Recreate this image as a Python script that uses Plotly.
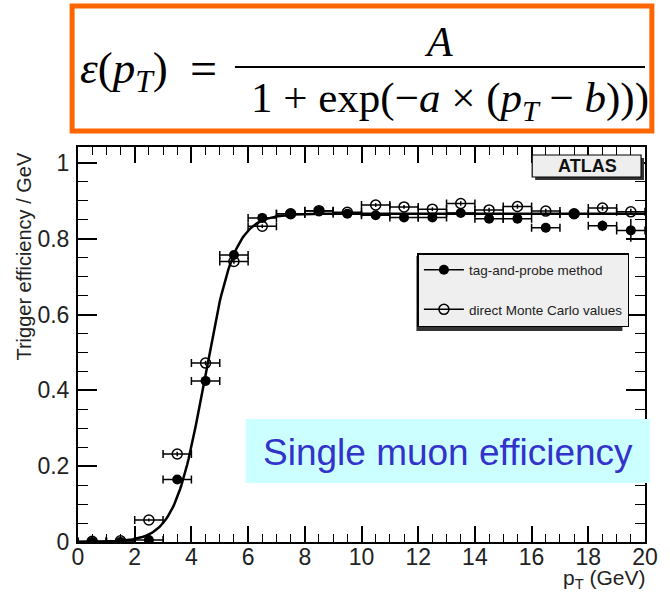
import math
import plotly.graph_objects as go

# ---------------- data ----------------
pt_bins = [0.5, 1.5, 2.5, 3.5, 4.5, 5.5, 6.5, 7.5, 8.5, 9.5,
           10.5, 11.5, 12.5, 13.5, 14.5, 15.5, 16.5, 17.5, 18.5, 19.5]
bin_half_width = [0.5] * 20

tag_probe_eff = [0.000, 0.000, 0.005, 0.165, 0.425, 0.757, 0.855, 0.866, 0.873, 0.866,
                 0.862, 0.856, 0.856, 0.868, 0.853, 0.853, 0.829, 0.865, 0.834, 0.822]
tag_probe_err = [0.002, 0.002, 0.003, 0.010, 0.010, 0.010, 0.008, 0.006, 0.006, 0.006,
                 0.007, 0.007, 0.008, 0.008, 0.009, 0.010, 0.012, 0.012, 0.014, 0.030]

mc_eff = [0.002, 0.003, 0.058, 0.232, 0.472, 0.740, 0.833, 0.866, 0.874, 0.870,
          0.889, 0.884, 0.878, 0.893, 0.876, 0.885, 0.873, 0.866, 0.881, 0.871]
mc_err = [0.002, 0.002, 0.004, 0.006, 0.006, 0.006, 0.005, 0.004, 0.004, 0.004,
          0.005, 0.005, 0.005, 0.006, 0.006, 0.006, 0.006, 0.006, 0.007, 0.008]

# fitted sigmoid parameters  eps = A / (1 + exp(-a (pT - b)))
fit_A, fit_a, fit_b = 0.866, 1.9, 4.47

x_ticks = [0, 2, 4, 6, 8, 10, 12, 14, 16, 18, 20]
y_ticks = [0, 0.2, 0.4, 0.6, 0.8, 1]
x_range = [0, 20]
y_range = [0, 1.042]

# ---------------- geometry ----------------
W, H = 670, 595
L, R, T, B = 78, 656, 147, 542


def pxx(p):
    return (p - L) / (R - L)


def pxy(p):
    return (B - p) / (B - T)


curve_x = [i * 0.05 for i in range(401)]
curve_y = [fit_A / (1 + math.exp(-fit_a * (x - fit_b))) for x in curve_x]

fig = go.Figure()

fig.add_trace(go.Scatter(x=curve_x, y=curve_y, mode="lines",
                         line=dict(color="black", width=2.5),
                         showlegend=False, hoverinfo="skip"))

fig.add_trace(go.Scatter(
    x=pt_bins, y=mc_eff, mode="markers",
    marker=dict(symbol="circle-open", size=10, color="black", line=dict(width=1.5, color="black")),
    error_x=dict(type="data", array=bin_half_width, color="black", thickness=1.5, width=4),
    error_y=dict(type="data", array=mc_err, color="black", thickness=1.5, width=0),
    showlegend=False))

fig.add_trace(go.Scatter(
    x=pt_bins, y=tag_probe_eff, mode="markers",
    marker=dict(symbol="circle", size=10, color="black"),
    error_x=dict(type="data", array=bin_half_width, color="black", thickness=1.5, width=4),
    error_y=dict(type="data", array=tag_probe_err, color="black", thickness=1.5, width=0),
    showlegend=False))

# legend entries (line + marker, ROOT style)
fig.add_trace(go.Scatter(x=[None], y=[None], mode="lines+markers", name="tag-and-probe method",
                         legendgroup="g1",
                         marker=dict(symbol="circle", size=10, color="black"),
                         line=dict(color="black", width=1.5)))
fig.add_trace(go.Scatter(x=[None], y=[None], mode="lines+markers", name="direct Monte Carlo values",
                         legendgroup="g2",
                         marker=dict(symbol="circle-open", size=10, color="black",
                                     line=dict(width=1.5, color="black")),
                         line=dict(color="black", width=1.5)))

# helper axes to mirror minor ticks on top and right
fig.add_trace(go.Scatter(x=[None], y=[None], xaxis="x2", yaxis="y2", showlegend=False, hoverinfo="skip"))

shapes = []
annotations = []

# formula box
shapes.append(dict(type="rect", xref="paper", yref="paper",
                   x0=pxx(72), x1=pxx(663), y0=pxy(6), y1=pxy(131),
                   line=dict(color="#ff6600", width=5), fillcolor="white", layer="above"))
serif = "Liberation Serif"
annotations.append(dict(xref="paper", yref="paper", x=pxx(78), y=pxy(71), xanchor="left", yanchor="middle",
                        text="<i>ε</i>(<i>p</i><sub><i>T</i></sub>)", showarrow=False,
                        font=dict(family=serif, size=45, color="black")))
annotations.append(dict(xref="paper", yref="paper", x=pxx(206), y=pxy(68), xanchor="center", yanchor="middle",
                        text="=", showarrow=False,
                        font=dict(family=serif, size=48, color="black")))
annotations.append(dict(xref="paper", yref="paper", x=pxx(446), y=pxy(42), xanchor="center", yanchor="middle",
                        text="<i>A</i>", showarrow=False,
                        font=dict(family=serif, size=42, color="black")))
shapes.append(dict(type="line", xref="paper", yref="paper",
                   x0=pxx(238), x1=pxx(656), y0=pxy(67), y1=pxy(67),
                   line=dict(color="black", width=2), layer="above"))
annotations.append(dict(xref="paper", yref="paper", x=pxx(457), y=pxy(101), xanchor="center", yanchor="middle",
                        text="1 + exp(−<i>a</i> × (<i>p</i><sub><i>T</i></sub> − <i>b</i>)))", showarrow=False,
                        font=dict(family=serif, size=43, color="black")))

# ATLAS label box with shadow
shapes.append(dict(type="rect", xref="paper", yref="paper",
                   x0=pxx(544), x1=pxx(655), y0=pxy(180), y1=pxy(158),
                   line=dict(width=0), fillcolor="#333333", layer="above"))
shapes.append(dict(type="rect", xref="paper", yref="paper",
                   x0=pxx(541), x1=pxx(652), y0=pxy(177), y1=pxy(155),
                   line=dict(color="black", width=1.2), fillcolor="#eeeeee", layer="above"))
annotations.append(dict(xref="paper", yref="paper", x=pxx(597), y=pxy(166), xanchor="center", yanchor="middle",
                        text="<b>ATLAS</b>", showarrow=False,
                        font=dict(family="Liberation Sans", size=18, color="#111111")))

# legend shadow
shapes.append(dict(type="rect", xref="paper", yref="paper",
                   x0=pxx(423), x1=pxx(633), y0=pxy(331), y1=pxy(256),
                   line=dict(width=0), fillcolor="#333333", layer="above"))

# Single muon efficiency box
shapes.append(dict(type="rect", xref="paper", yref="paper",
                   x0=pxx(249), x1=pxx(661), y0=pxy(483), y1=pxy(419),
                   line=dict(width=0), fillcolor="#ccffff", layer="above"))
annotations.append(dict(xref="paper", yref="paper", x=pxx(455), y=pxy(452), xanchor="center", yanchor="middle",
                        text="Single muon efficiency", showarrow=False,
                        font=dict(family="Liberation Sans", size=37, color="#3333cc")))

# axis titles (ROOT style, aligned to the axis end)
annotations.append(dict(xref="paper", yref="paper", x=pxx(22), y=pxy(150), xanchor="center", yanchor="top",
                        text="Trigger efficiency / GeV", textangle=-90, showarrow=False,
                        font=dict(family="Liberation Sans", size=20, color="#222222")))
annotations.append(dict(xref="paper", yref="paper", x=pxx(659), y=pxy(579), xanchor="right", yanchor="middle",
                        text="p<sub>T</sub> (GeV)", showarrow=False,
                        font=dict(family="Liberation Sans", size=21, color="#222222")))

tickfont = dict(family="Liberation Sans", size=23, color="#222222")
common_x = dict(range=x_range, tickvals=x_ticks, ticks="inside", ticklen=16, tickwidth=1.5,
                tickcolor="black", showgrid=False, zeroline=False,
                minor=dict(dtick=0.5, ticks="inside", ticklen=8, tickwidth=1.2, tickcolor="black", showgrid=False))
common_y = dict(range=y_range, tickvals=y_ticks, ticks="inside", ticklen=19, tickwidth=1.5,
                tickcolor="black", showgrid=False, zeroline=False,
                minor=dict(dtick=0.05, ticks="inside", ticklen=10, tickwidth=1.2, tickcolor="black", showgrid=False))

fig.update_layout(
    width=W, height=H,
    margin=dict(l=L, r=W - R, t=T, b=H - B, pad=0),
    paper_bgcolor="white", plot_bgcolor="white",
    shapes=shapes, annotations=annotations,
    showlegend=True,
    legend=dict(x=pxx(424), y=pxy(253), xanchor="left", yanchor="top",
                bgcolor="#efefef", bordercolor="black", borderwidth=1.5,
                font=dict(family="Liberation Sans", size=13.5, color="#222222"),
                tracegroupgap=19, itemwidth=40),
    xaxis=dict(**common_x, showline=True, linecolor="black", linewidth=2, mirror=True,
               tickfont=tickfont, ticklabelstandoff=-7),
    yaxis=dict(**common_y, showline=True, linecolor="black", linewidth=2, mirror=True,
               tickfont=tickfont, ticklabelstandoff=2),
    xaxis2=dict(**common_x, overlaying="x", side="top", anchor="y", showticklabels=False, showline=False),
    yaxis2=dict(**common_y, overlaying="y", side="right", anchor="x", showticklabels=False, showline=False),
)

fig.write_html("out.html")
